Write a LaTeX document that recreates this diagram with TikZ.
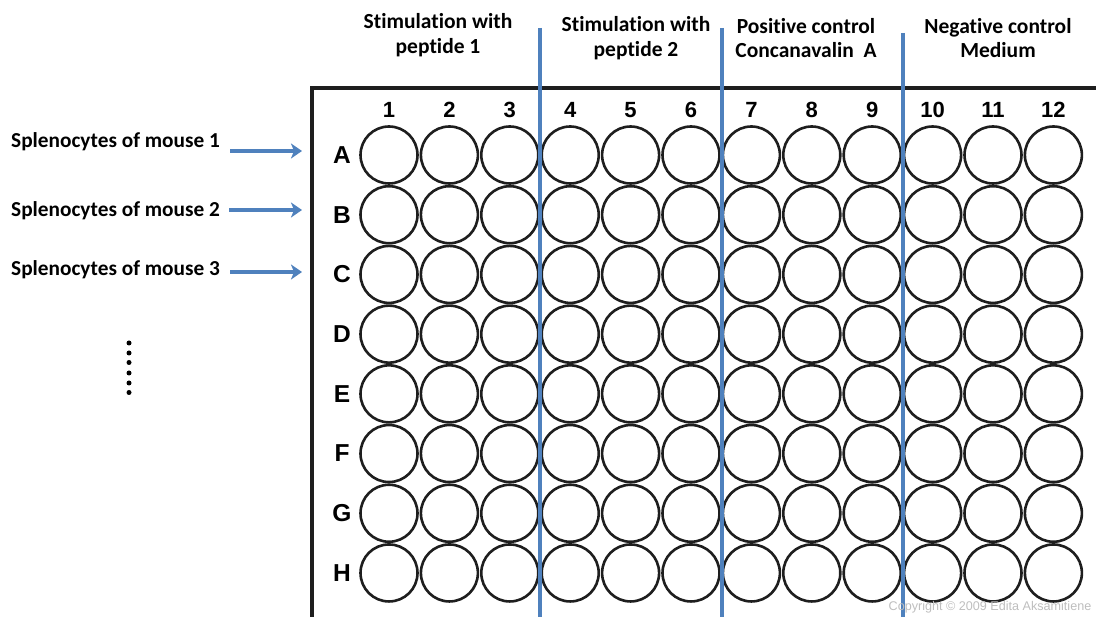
\documentclass[tikz,border=0pt]{standalone}
\usepackage{fontspec}
\setmainfont[Ligatures=NoCommon]{Carlito}
\newfontfamily\arialfont{Liberation Sans}
\usetikzlibrary{arrows.meta}
\definecolor{pblue}{HTML}{4F81BD}
\definecolor{welldark}{HTML}{1E1E1E}
\definecolor{copygray}{HTML}{BEBEBE}
\tikzset{
  well/.style={circle,draw=welldark,line width=2.6pt,minimum size=57pt,inner sep=0pt},
  colnum/.style={font=\arialfont\bfseries\fontsize{22}{24}\selectfont,inner sep=0pt},
  rowlab/.style={font=\arialfont\bfseries\fontsize{24.5}{28}\selectfont,inner sep=0pt},
  header/.style={font=\bfseries\fontsize{21.5}{24.5}\selectfont,align=center,inner sep=0pt},
  mouselab/.style={font=\bfseries\fontsize{21.3}{24}\selectfont,anchor=west,inner sep=0pt},
  sep/.style={draw=pblue,line width=3.2pt},
  marrow/.style={draw=pblue,line width=3.2pt,-{Stealth[length=11pt,width=15pt,inset=3pt]}},
  dot/.style={circle,fill=black,minimum size=5pt,inner sep=0pt}
}
\begin{document}
\begin{tikzpicture}[x=1pt,y=-1pt]
\useasboundingbox (0,0) rectangle (1096,617);
% plate border
\coordinate (pbl) at (312,619);
\coordinate (ptl) at (312,88);
\coordinate (ptr) at (1098,88);
\draw[line width=3.2pt,draw=welldark] (pbl) -- (ptl) -- (ptr);
% column numbers and wells
\foreach \c in {1,...,12}{
  \node[colnum] (n\c) at ({389+(\c-1)*60.4},110) {\c};
}
\foreach \r [count=\i from 0] in {A,B,C,D,E,F,G,H}{
  \node[rowlab] (r\r) at (342,{155+\i*59.71}) {\r};
  \foreach \c in {1,...,12}{
    \node[well] (w\r\c) at ({389+(\c-1)*60.4},{155+\i*59.71}) {};
  }
}
% separator lines
\coordinate (s1t) at (540,28);  \coordinate (s1b) at (540,619);
\coordinate (s2t) at (722,28);  \coordinate (s2b) at (722,619);
\coordinate (s3t) at (903,33);  \coordinate (s3b) at (903,619);
\draw[sep] (s1t) -- (s1b);
\draw[sep] (s2t) -- (s2b);
\draw[sep] (s3t) -- (s3b);
% headers
\node[header] (h1) at (438,35) {Stimulation with\\peptide 1};
\node[header] (h2) at (636,38) {Stimulation with\\peptide 2};
\node[header] (h3) at (806,38) {Positive control\\Concanavalin~~A};
\node[header] (h4) at (998,38) {Negative control\\Medium};
% mouse labels
\node[mouselab] (m1) at (11,142) {Splenocytes of mouse 1};
\node[mouselab] (m2) at (11,211) {Splenocytes of mouse 2};
\node[mouselab] (m3) at (11,270) {Splenocytes of mouse 3};
\coordinate (a1s) at (230,151); \coordinate (a1e) at (302,151);
\coordinate (a2s) at (229,210); \coordinate (a2e) at (302,210);
\coordinate (a3s) at (230,272); \coordinate (a3e) at (302,272);
\draw[marrow] (a1s) -- (a1e);
\draw[marrow] (a2s) -- (a2e);
\draw[marrow] (a3s) -- (a3e);
% vertical dots
\foreach \y [count=\k] in {343,353,362.5,373,383,392.5}{
  \node[dot] (d\k) at (129,\y) {};
}
% copyright
\node[font=\arialfont\fontsize{12.6}{14}\selectfont,text=copygray,inner sep=0pt] (copy) at (990,607) {Copyright \textcopyright{} 2009 Edita Aksamitiene};
\end{tikzpicture}
\end{document}
